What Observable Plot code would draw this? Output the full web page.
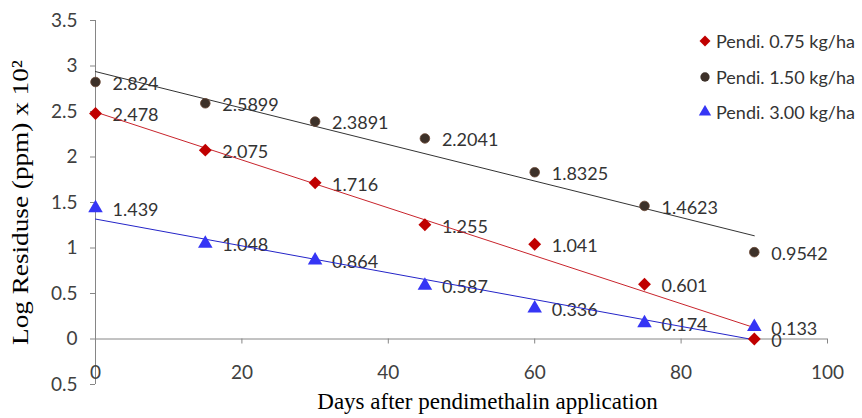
<!DOCTYPE html>
<html><head><meta charset="utf-8">
<script src="https://cdn.jsdelivr.net/npm/d3@7"></script>
<script src="https://cdn.jsdelivr.net/npm/@observablehq/plot@0.6"></script>
<style>
body{margin:0;background:#fff;}
#wrap{position:relative;width:862px;height:418px;}
.legend{position:absolute;left:698px;top:23.5px;font-family:Lato,sans-serif;font-size:18px;color:#333;}
.row{height:35.5px;display:flex;align-items:center;white-space:nowrap;}
.row svg{margin-right:4px;}
</style></head><body><div id="wrap"></div>
<script>
const days = [0, 15, 30, 45, 60, 75, 90];
const pendi075 = [2.478, 2.075, 1.716, 1.255, 1.041, 0.601, 0];
const pendi150 = [2.824, 2.5899, 2.3891, 2.2041, 1.8325, 1.4623, 0.9542];
const pendi300 = [1.439, 1.048, 0.864, 0.587, 0.336, 0.174, 0.133];
const seriesNames = ["Pendi. 0.75 kg/ha", "Pendi. 1.50 kg/ha", "Pendi. 3.00 kg/ha"];
const seriesSymbols = ["diamond2", "circle", "triangle"];
const seriesFills = ["#c00000", "#3d3129", "#3535f5"];
const lineColors = ["#c8242c", "#333333", "#2424c8"];
const xTicks = [0, 20, 40, 60, 80, 100];
const yTicks = [-0.5, 0, 0.5, 1, 1.5, 2, 2.5, 3, 3.5];
const yTickLabels = ["0.5", "0", "0.5", "1", "1.5", "2", "2.5", "3", "3.5"];
const xTitle = "Days after pendimethalin application";
const yTitle = "Log Residuse (ppm) x 10\u00B2";

const seriesValues = [pendi075, pendi150, pendi300];
const rows = [];
seriesValues.forEach((vals, s) => vals.forEach((v, i) => rows.push({day: days[i], value: v, series: s, label: String(v)})));
const bySeries = s => rows.filter(r => r.series === s);
const dotR = [5.8, 4.8, 5.4];

const axisColor = "#868686";
const marks = [
  Plot.ruleX([0], {stroke: axisColor}),
  Plot.ruleY([0], {stroke: axisColor}),
  Plot.ruleX(xTicks, {x: d => d, y1: 0, y2: 0, insetBottom: -5, stroke: axisColor}),
  Plot.axisY({ticks: yTicks, tickFormat: d => yTickLabels[yTicks.indexOf(d)], tickSize: 5, tickPadding: 13, stroke: axisColor, label: null, fontSize: 19}),
  Plot.axisX({ticks: xTicks, tickSize: 0, tickPadding: 0, dy: -19, label: null, fontSize: 19}),
  Plot.text([xTitle], {frameAnchor: "bottom", textAnchor: "middle", dx: 26, dy: 24, fontFamily: "Liberation Serif", fontSize: 23, fill: "#000"}),
  Plot.text([yTitle], {frameAnchor: "left", textAnchor: "middle", dx: -75, rotate: -90, fontFamily: "Liberation Serif", fontSize: 23, fill: "#000", className: "ytitle"}),
  Plot.text(rows, {x: "day", y: "value", text: "label", dx: 17, dy: 2, textAnchor: "start", fontSize: 18, fill: "#333"})
];
[1, 0, 2].forEach(s => {
  marks.push(Plot.linearRegressionY(bySeries(s), {x: "day", y: "value", stroke: lineColors[s], strokeWidth: 1, ci: 0}));
});
[1, 0, 2].forEach(s => {
  marks.push(Plot.dot(bySeries(s), {x: "day", y: "value", symbol: () => seriesSymbols[s], r: dotR[s], fill: seriesFills[s], stroke: s === 1 ? "#6a4634" : "none", strokeWidth: 0.8}));
});

const chart = Plot.plot({
  width: 862, height: 418,
  marginLeft: 95, marginRight: 35, marginTop: 20, marginBottom: 34,
  x: {domain: [0, 100]},
  y: {domain: [-0.5, 3.5]},
  symbol: {type: "identity"},
  style: {fontFamily: "Lato, sans-serif", fontSize: "19px", color: "#404040", background: "white"},
  marks
});
const wrap = document.getElementById("wrap");
wrap.appendChild(chart);
// stretch the y title along its length, as in the reference
chart.querySelectorAll("text").forEach(t => {
  if (t.textContent === yTitle) {
    t.setAttribute("textLength", 285);
    t.setAttribute("lengthAdjust", "spacingAndGlyphs");
  }
});

// legend
const legend = document.createElement("div");
legend.className = "legend";
const symPaths = [
  d3.symbol(d3.symbolDiamond2, 78)(),
  d3.symbol(d3.symbolCircle, 68)(),
  d3.symbol(d3.symbolTriangle, 66)()
];
seriesNames.forEach((name, s) => {
  const row = document.createElement("div");
  row.className = "row";
  row.innerHTML = `<svg width="14" height="14" viewBox="-7 -7 14 14"><path d="${symPaths[s]}" fill="${seriesFills[s]}"></path></svg><span>${name}</span>`;
  legend.appendChild(row);
});
wrap.appendChild(legend);
</script>
</body></html>
